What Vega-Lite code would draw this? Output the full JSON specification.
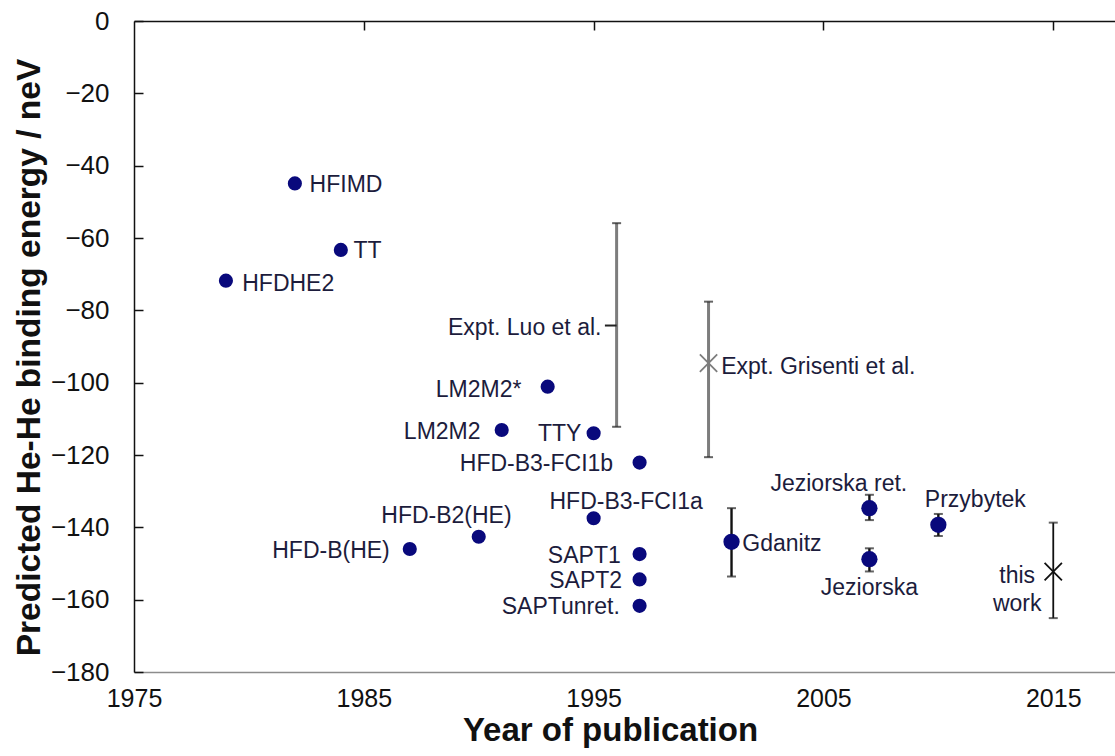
{
  "$schema": "https://vega.github.io/schema/vega-lite/v6.json",
  "width": 982,
  "height": 651,
  "autosize": {"type": "none"},
  "padding": {"left": 134, "top": 21, "right": 0, "bottom": 84},
  "background": "white",
  "config": {"view": {"stroke": null}, "font": "Liberation Sans", "axis": {"grid": false}},
  "resolve": {"axis": {"x": "independent", "y": "independent"}},
  "datasets": {
    "models": [
      {"model": "HFDHE2", "year": 1979, "energy": -71.8},
      {"model": "HFIMD", "year": 1982, "energy": -44.9},
      {"model": "TT", "year": 1984, "energy": -63.3},
      {"model": "HFD-B(HE)", "year": 1987, "energy": -146.0},
      {"model": "HFD-B2(HE)", "year": 1990, "energy": -142.6},
      {"model": "LM2M2", "year": 1991, "energy": -113.1},
      {"model": "LM2M2*", "year": 1993, "energy": -101.1},
      {"model": "TTY", "year": 1995, "energy": -114.0},
      {"model": "HFD-B3-FCI1a", "year": 1995, "energy": -137.5},
      {"model": "HFD-B3-FCI1b", "year": 1997, "energy": -122.1},
      {"model": "SAPT1", "year": 1997, "energy": -147.4},
      {"model": "SAPT2", "year": 1997, "energy": -154.4},
      {"model": "SAPTunret.", "year": 1997, "energy": -161.7}
    ],
    "uncertain": [
      {"name": "Expt. Luo et al.", "group": "experiment", "year": 1996, "energy": -84.2, "lo": -112.2, "hi": -55.9},
      {"name": "Expt. Grisenti et al.", "group": "experiment", "year": 2000, "energy": -94.6, "lo": -120.6, "hi": -77.6},
      {"name": "Gdanitz", "group": "theory", "year": 2001, "energy": -144.0, "lo": -153.6, "hi": -134.7},
      {"name": "Jeziorska ret.", "group": "theory", "year": 2007, "energy": -134.7, "lo": -138.0, "hi": -131.0},
      {"name": "Jeziorska", "group": "theory", "year": 2007, "energy": -148.8, "lo": -152.2, "hi": -145.8},
      {"name": "Przybytek", "group": "theory", "year": 2010, "energy": -139.3, "lo": -142.4, "hi": -136.3},
      {"name": "this work", "group": "this work", "year": 2015, "energy": -152.25, "lo": -165.1, "hi": -138.7}
    ],
    "labels": [
      {"label": "HFIMD", "align": "left", "year": 1982.64, "energy": -45.06},
      {"label": "TT", "align": "left", "year": 1984.55, "energy": -63.31},
      {"label": "HFDHE2", "align": "left", "year": 1979.71, "energy": -72.52},
      {"label": "Gdanitz", "align": "left", "year": 2001.47, "energy": -144.4},
      {"label": "Expt. Grisenti et al.", "align": "left", "year": 2000.55, "energy": -95.33},
      {"label": "HFD-B3-FCI1a", "align": "left", "year": 1993.08, "energy": -132.79},
      {"label": "HFD-B2(HE)", "align": "left", "year": 1985.76, "energy": -136.58},
      {"label": "LM2M2*", "align": "right", "year": 1991.86, "energy": -101.69},
      {"label": "LM2M2", "align": "right", "year": 1990.08, "energy": -113.3},
      {"label": "TTY", "align": "right", "year": 1994.47, "energy": -113.85},
      {"label": "HFD-B3-FCI1b", "align": "right", "year": 1995.85, "energy": -122.15},
      {"label": "HFD-B(HE)", "align": "right", "year": 1986.13, "energy": -146.25},
      {"label": "SAPT1", "align": "right", "year": 1996.18, "energy": -147.64},
      {"label": "SAPT2", "align": "right", "year": 1996.24, "energy": -154.55},
      {"label": "SAPTunret.", "align": "right", "year": 1996.14, "energy": -161.82},
      {"label": "Expt. Luo et al.", "align": "right", "year": 1995.34, "energy": -84.74},
      {"label": "Jeziorska ret.", "align": "center", "year": 2005.67, "energy": -127.81},
      {"label": "Przybytek", "align": "center", "year": 2011.61, "energy": -132.29},
      {"label": "Jeziorska", "align": "center", "year": 2007.0, "energy": -156.4},
      {"label": "this\nwork", "align": "center", "year": 2013.43, "energy": -153.1}
    ]
  },
  "layer": [
    {
      "data": {"name": "uncertain"},
      "mark": {"type": "rule"},
      "encoding": {
        "x": {"field": "year", "type": "quantitative", "scale": {"domain": [1975, 2017.73], "nice": false, "zero": false},
          "axis": {"orient": "bottom", "values": [1975, 1985, 1995, 2005, 2015], "format": "d", "labelFontSize": 25, "labelColor": "#111111", "labelPadding": 14, "ticks": false, "domainColor": "#8c8c8c", "domainWidth": 1.5, "labelFlush": false, "labelOverlap": false,
            "title": "Year of publication", "titleFontSize": 33, "titleFontWeight": "bold", "titleColor": "#111111", "titleX": 476, "titleY": 68, "titleBaseline": "alphabetic"}},
        "y": {"field": "lo", "type": "quantitative", "scale": {"domain": [-180, 0], "nice": false, "zero": false},
          "axis": {"orient": "left", "values": [-180, -160, -140, -120, -100, -80, -60, -40, -20, 0], "labelFontSize": 26, "labelColor": "#111111", "labelPadding": 25, "ticks": false, "domainColor": "#111111", "domainWidth": 1.5, "labelFlush": false, "labelOverlap": false,
            "title": "Predicted He-He binding energy / neV", "titleFontSize": 33.5, "titleFontWeight": "bold", "titleColor": "#111111", "titleX": -95, "titleY": 336, "titleBaseline": "alphabetic", "titleAngle": -90}},
        "y2": {"field": "hi"},
        "color": {"field": "group", "type": "nominal", "scale": {"domain": ["experiment", "theory", "this work"], "range": ["#7d7d7d", "#111111", "#111111"]}, "legend": null},
        "size": {"field": "group", "type": "nominal", "scale": {"domain": ["experiment", "theory", "this work"], "range": [3, 1.8, 1.8]}, "legend": null}
      }
    },
    {
      "data": {"name": "uncertain"},
      "mark": {"type": "tick", "orient": "horizontal", "size": 9, "thickness": 2, "color": "#222222"},
      "encoding": {
        "x": {"field": "year", "type": "quantitative", "scale": {"domain": [1975, 2017.73], "nice": false, "zero": false},
          "axis": {"orient": "bottom", "offset": -651, "values": [1985, 1995, 2005, 2015], "labels": false, "ticks": true, "tickSize": 9, "tickWidth": 1.5, "tickColor": "#111111", "domainColor": "#111111", "domainWidth": 1.5, "title": null}},
        "y": {"field": "lo", "type": "quantitative", "scale": {"domain": [-180, 0], "nice": false, "zero": false},
          "axis": {"orient": "right", "offset": -982, "values": [-180, -160, -140, -120, -100, -80, -60, -40, -20, 0], "labels": false, "ticks": true, "tickSize": 9, "tickWidth": 1.5, "tickColor": "#111111", "domain": false, "title": null}}
      }
    },
    {
      "data": {"name": "uncertain"},
      "mark": {"type": "tick", "orient": "horizontal", "size": 9, "thickness": 2, "color": "#222222"},
      "encoding": {
        "x": {"field": "year", "type": "quantitative", "scale": {"domain": [1975, 2017.73], "nice": false, "zero": false}, "axis": null},
        "y": {"field": "hi", "type": "quantitative", "scale": {"domain": [-180, 0], "nice": false, "zero": false}, "axis": null}
      }
    },
    {
      "data": {"name": "models"},
      "mark": {"type": "point", "shape": "circle", "filled": true, "opacity": 1, "size": 200, "color": "#09097c"},
      "encoding": {
        "x": {"field": "year", "type": "quantitative", "scale": {"domain": [1975, 2017.73], "nice": false, "zero": false}, "axis": null},
        "y": {"field": "energy", "type": "quantitative", "scale": {"domain": [-180, 0], "nice": false, "zero": false}, "axis": null}
      }
    },
    {
      "data": {"name": "uncertain"},
      "transform": [{"filter": "datum.group == 'theory'"}],
      "mark": {"type": "point", "shape": "circle", "filled": true, "opacity": 1, "size": 265, "color": "#09097c"},
      "encoding": {
        "x": {"field": "year", "type": "quantitative", "scale": {"domain": [1975, 2017.73], "nice": false, "zero": false}, "axis": null},
        "y": {"field": "energy", "type": "quantitative", "scale": {"domain": [-180, 0], "nice": false, "zero": false}, "axis": null}
      }
    },
    {
      "data": {"name": "uncertain"},
      "transform": [{"filter": "datum.name == 'Expt. Grisenti et al.' || datum.name == 'this work'"}],
      "mark": {"type": "point", "shape": "M-1,-1L1,1M-1,1L1,-1", "filled": false, "opacity": 1, "size": 300, "strokeWidth": 1.8},
      "encoding": {
        "x": {"field": "year", "type": "quantitative", "scale": {"domain": [1975, 2017.73], "nice": false, "zero": false}, "axis": null},
        "y": {"field": "energy", "type": "quantitative", "scale": {"domain": [-180, 0], "nice": false, "zero": false}, "axis": null},
        "color": {"field": "group", "type": "nominal", "scale": {"domain": ["experiment", "theory", "this work"], "range": ["#7d7d7d", "#111111", "#111111"]}, "legend": null}
      }
    },
    {
      "data": {"name": "uncertain"},
      "transform": [{"filter": "datum.name == 'Expt. Luo et al.'"}],
      "mark": {"type": "point", "shape": "M-1,0L0,0", "filled": false, "opacity": 1, "size": 548, "strokeWidth": 2, "color": "#222222"},
      "encoding": {
        "x": {"field": "year", "type": "quantitative", "scale": {"domain": [1975, 2017.73], "nice": false, "zero": false}, "axis": null},
        "y": {"field": "energy", "type": "quantitative", "scale": {"domain": [-180, 0], "nice": false, "zero": false}, "axis": null}
      }
    },
    {
      "data": {"name": "labels"},
      "transform": [{"filter": "datum.align == 'left'"}],
      "mark": {"type": "text", "align": "left", "baseline": "middle", "dy": 1, "fontSize": 23, "color": "#1c1c3c"},
      "encoding": {
        "x": {"field": "year", "type": "quantitative", "scale": {"domain": [1975, 2017.73], "nice": false, "zero": false}, "axis": null},
        "y": {"field": "energy", "type": "quantitative", "scale": {"domain": [-180, 0], "nice": false, "zero": false}, "axis": null},
        "text": {"field": "label"}
      }
    },
    {
      "data": {"name": "labels"},
      "transform": [{"filter": "datum.align == 'right'"}],
      "mark": {"type": "text", "align": "right", "baseline": "middle", "dy": 1, "fontSize": 23, "color": "#1c1c3c"},
      "encoding": {
        "x": {"field": "year", "type": "quantitative", "scale": {"domain": [1975, 2017.73], "nice": false, "zero": false}, "axis": null},
        "y": {"field": "energy", "type": "quantitative", "scale": {"domain": [-180, 0], "nice": false, "zero": false}, "axis": null},
        "text": {"field": "label"}
      }
    },
    {
      "data": {"name": "labels"},
      "transform": [{"filter": "datum.align == 'center'"}],
      "mark": {"type": "text", "align": "center", "baseline": "middle", "dy": 1, "fontSize": 23, "lineBreak": "\n", "lineHeight": 28, "color": "#1c1c3c"},
      "encoding": {
        "x": {"field": "year", "type": "quantitative", "scale": {"domain": [1975, 2017.73], "nice": false, "zero": false}, "axis": null},
        "y": {"field": "energy", "type": "quantitative", "scale": {"domain": [-180, 0], "nice": false, "zero": false}, "axis": null},
        "text": {"field": "label"}
      }
    }
  ]
}
